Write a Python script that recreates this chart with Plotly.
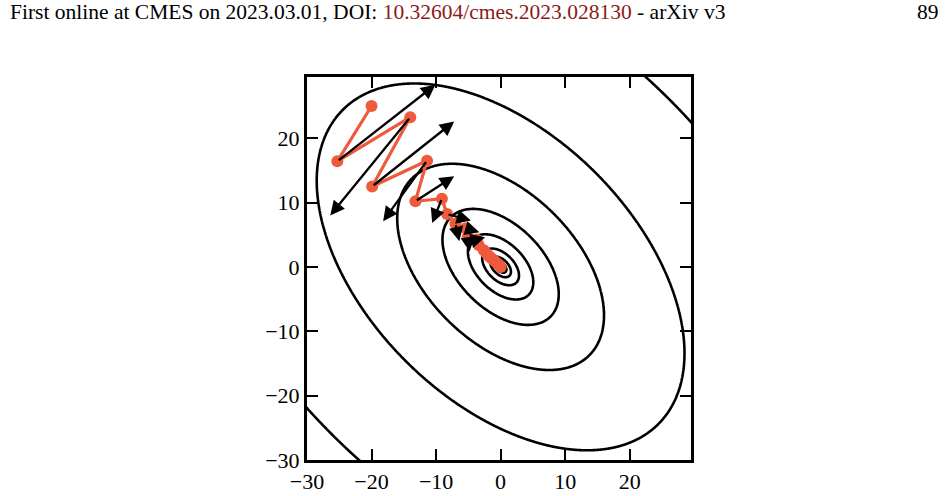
import numpy as np
import plotly.graph_objects as go

# ---- data ----
# quadratic loss f(x, y) = qa*x^2 + qb*x*y + qc*y^2 (contour surface)
qa, qb, qc = 1.0, 0.94, 1.0
# contour levels: f = 2 * 10**(k/2)
level_k = [-2, -1, 0, 1, 2, 3, 4, 5, 6]

# momentum path (red points)
path_x = [-20.0, -25.3, -14.0, -19.9, -11.4, -13.2, -9.1, -8.3, -7.0, -5.4, -5.1,
          -3.7, -3.4, -2.6, -2.2, -1.8, -1.4, -1.0, -0.7, -0.4, -0.2, 0.0]
path_y = [25.0, 16.4, 23.25, 12.5, 16.5, 10.2, 10.6, 8.2, 6.7, 6.0, 4.65,
          4.25, 3.4, 2.6, 2.1, 1.7, 1.3, 1.0, 0.7, 0.4, 0.2, 0.0]

# gradient-descent step arrows: start point -> tip
arrow_x0 = [-25.3, -14.0, -19.9, -11.4, -13.2, -9.1, -8.3, -7.0, -5.4, -5.1, -3.7]
arrow_y0 = [16.4, 23.25, 12.5, 16.5, 10.2, 10.6, 8.2, 6.7, 6.0, 4.65, 4.25]
arrow_x1 = [-10.1, -26.4, -7.2, -18.2, -7.2, -10.6, -4.6, -6.4, -3.3, -4.8, -2.4]
arrow_y1 = [28.3, 8.0, 22.6, 7.1, 14.1, 6.8, 7.2, 4.0, 5.4, 2.4, 4.6]

tick_vals = [-30, -20, -10, 0, 10, 20]
tick_text = ["\u221230", "\u221220", "\u221210", "0", "10", "20"]

axis_range = [-30, 29.5]

# ---- figure ----
gx = np.linspace(-30.2, 29.7, 500)
gy = np.linspace(-30.2, 29.7, 500)
X, Y = np.meshgrid(gx, gy)
F = qa * X**2 + qb * X * Y + qc * Y**2
Z = 2 * np.log10(np.maximum(F, 1e-9) / 2.0)

fig = go.Figure()
fig.add_trace(go.Contour(
    x=gx, y=gy, z=Z,
    contours=dict(start=min(level_k), end=max(level_k), size=1, coloring="lines"),
    line=dict(color="black", width=2.6),
    colorscale=[[0, "black"], [1, "black"]],
    showscale=False, hoverinfo="skip",
))
fig.add_trace(go.Scatter(
    x=path_x, y=path_y, mode="lines+markers",
    line=dict(color="#EE5A3C", width=3.2),
    marker=dict(color="#EE5A3C", size=12),
    showlegend=False,
))

for x0, y0, x1, y1 in zip(arrow_x0, arrow_y0, arrow_x1, arrow_y1):
    fig.add_annotation(
        x=x1, y=y1, ax=x0, ay=y0, xref="x", yref="y", axref="x", ayref="y",
        text="", showarrow=True, arrowhead=2, arrowsize=1.25, arrowwidth=2.3,
        arrowcolor="black", standoff=0, startstandoff=0,
    )

L, R, T, B = 307, 257, 77, 36
W, H = 948, 496
pw, ph = W - L - R, H - T - B

def px2paper(px, py):
    return (px - L) / pw, (H - B - py) / ph

hx, hy = px2paper(8, 12)
fig.add_annotation(
    x=hx, y=hy, xref="paper", yref="paper", xanchor="left", yanchor="middle",
    showarrow=False,
    text='First online at CMES on 2023.03.01, DOI: <span style="color:#8B1A1A">10.32604/cmes.2023.028130</span> - arXiv v3',
    font=dict(family="Liberation Serif", size=21.5, color="black"),
)
rx, ry = px2paper(941, 12)
fig.add_annotation(
    x=rx, y=ry, xref="paper", yref="paper", xanchor="right", yanchor="middle",
    showarrow=False, text="89",
    font=dict(family="Liberation Serif", size=21.5, color="black"),
)

axis_common = dict(
    range=axis_range, tickvals=tick_vals, ticktext=tick_text, automargin=False,
    showgrid=False, zeroline=False, showline=True, linewidth=3, linecolor="black",
    mirror="ticks", ticks="inside", ticklen=11, tickwidth=2, tickcolor="black",
    tickfont=dict(family="Liberation Serif", size=22, color="black"),
)
fig.update_xaxes(**axis_common)
fig.update_yaxes(**axis_common)

fig.update_layout(
    width=W, height=H, margin=dict(l=L, r=R, t=T, b=B, autoexpand=False),
    paper_bgcolor="white", plot_bgcolor="white", showlegend=False,
)

fig.write_html("out.html")
